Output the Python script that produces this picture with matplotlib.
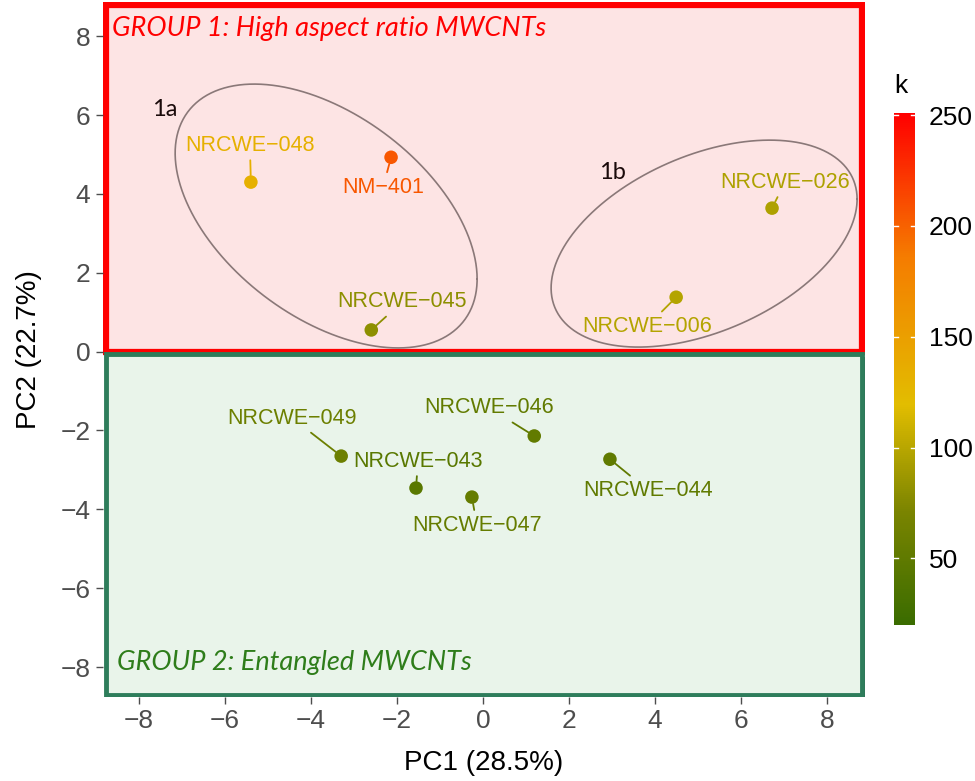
import numpy as np
import matplotlib
matplotlib.use("Agg")
import matplotlib.pyplot as plt
import matplotlib.patheffects as pe
from matplotlib.colors import LinearSegmentedColormap, Normalize
from matplotlib.patches import Rectangle

plt.rcParams["font.family"] = ["Liberation Sans", "DejaVu Sans"]

# PCA scores
names = ["NRCWE-048", "NM-401", "NRCWE-045", "NRCWE-026", "NRCWE-006",
         "NRCWE-049", "NRCWE-043", "NRCWE-047", "NRCWE-046", "NRCWE-044"]
pc1 = [-5.40, -2.14, -2.60, 6.72, 4.49, -3.30, -1.56, -0.26, 1.19, 2.95]
pc2 = [4.30, 4.93, 0.55, 3.64, 1.38, -2.65, -3.46, -3.69, -2.14, -2.73]
k = [132, 205, 80, 95, 98, 60, 45, 55, 52, 50]

# cluster ellipses (centre + covariance in PC units)
ell_names = ["1a", "1b"]
ell_center = [(-3.65, 3.44), (5.14, 2.74)]
ell_cov = [[[12.33, -5.60], [-5.60, 11.20]],
           [[12.66, 4.01], [4.01, 6.89]]]
ell_label_pos = [(-7.40, 6.15), (3.00, 4.55)]

# label offsets from point (pixels, x right / y down)
lab_off = [(-1, -37), (-8, 30), (31, -28), (13, -26), (-29, 29),
           (-49, -38), (2, -27), (5, 28), (-45, -28), (38, 31)]

cmap = LinearSegmentedColormap.from_list(
    "k", [(0.0, "#3a6c00"), (0.22, "#7a8400"), (0.43, "#e2bd00"),
          (0.72, "#f57c00"), (1.0, "#ff0000")])
norm = Normalize(vmin=20, vmax=251)

fig = plt.figure(figsize=(9.75, 7.81), dpi=100)
ax = fig.add_axes([0.1056, 0.1076, 0.7815, 0.8894])
xmin, xmax, ymin, ymax = -8.84, 8.88, -8.76, 8.86
ax.set_xlim(xmin, xmax)
ax.set_ylim(ymin, ymax)

shadow = [pe.SimplePatchShadow(offset=(2.5, -2.5), shadow_rgbFace="#333333", alpha=1), pe.Normal()]
r1 = Rectangle((xmin + 0.06, 0.0), xmax - xmin - 0.12, ymax - 0.06,
               fc="#fde4e4", ec="#ff0000", lw=4.5, zorder=0)
r1.set_path_effects(shadow)
ax.add_patch(r1)
r2 = Rectangle((xmin + 0.06, ymin + 0.06), xmax - xmin - 0.12, -ymin - 0.12,
               fc="#e9f4ea", ec="#2e7d5b", lw=3.5, zorder=0)
r2.set_path_effects(shadow)
ax.add_patch(r2)

ax.text(0.012, 0.963, "GROUP 1: High aspect ratio MWCNTs", transform=ax.transAxes,
        family="Lato", style="italic", fontsize=19.5, color="#ff0000", va="center")
ax.text(0.018, 0.05, "GROUP 2: Entangled MWCNTs", transform=ax.transAxes,
        family="Lato", style="italic", fontsize=19.5, color="#2e7d1a", va="center")

t = np.linspace(0, 2 * np.pi, 300)
for c, cov, lp, nm in zip(ell_center, ell_cov, ell_label_pos, ell_names):
    L = np.linalg.cholesky(np.array(cov))
    pts = L @ np.vstack([np.cos(t), np.sin(t)])
    ax.plot(c[0] + pts[0], c[1] + pts[1], color="#8a7878", lw=1.2, zorder=1)
    ax.text(lp[0], lp[1], nm, family="Lato", fontsize=17, color="#1a0a0a",
            ha="center", va="center")

cols = cmap(norm(np.array(k)))
ax.scatter(pc1, pc2, s=95, c=cols, zorder=3, linewidths=0)
for x, y, nm, col, off in zip(pc1, pc2, names, cols, lab_off):
    ax.annotate(nm.replace("-", "\u2212"), xy=(x, y), xytext=(off[0] * 0.72, -off[1] * 0.72),
                textcoords="offset points", ha="center", va="center",
                fontsize=15.5, color=col, zorder=4,
                bbox=dict(boxstyle="square,pad=0.15", fc="none", ec="none"),
                arrowprops=dict(arrowstyle="-", color=col, lw=1.3, shrinkA=1, shrinkB=5))

ticks = np.arange(-8, 9, 2)
ax.set_xticks(ticks)
ax.set_yticks(ticks)
ax.set_xticklabels([str(v).replace("-", "\u2212") for v in ticks])
ax.set_yticklabels([str(v).replace("-", "\u2212") for v in ticks])
ax.tick_params(labelsize=19, colors="#4d4d4d", length=5, width=1, pad=4)
for s in ax.spines.values():
    s.set_visible(False)
ax.set_xlabel("PC1 (28.5%)", fontsize=20, labelpad=12)
ax.set_ylabel("PC2 (22.7%)", fontsize=20, labelpad=13)

cax = fig.add_axes([894 / 975, 0.1998, 21 / 975, 0.6556])
sm = plt.cm.ScalarMappable(norm=norm, cmap=cmap)
cb = fig.colorbar(sm, cax=cax)
cb.outline.set_visible(False)
cb.set_ticks([50, 100, 150, 200, 250])
cb.ax.tick_params(labelsize=19, length=0, pad=10)
for v in [50, 100, 150, 200, 250]:
    cax.plot([0, 0.2], [v, v], color="white", lw=1)
    cax.plot([0.8, 1.0], [v, v], color="white", lw=1)
cax.set_xlim(0, 1)
cax.text(0.0, 1.03, "k", transform=cax.transAxes, fontsize=19, ha="left", va="bottom")

plt.savefig("out.png", dpi=100)
